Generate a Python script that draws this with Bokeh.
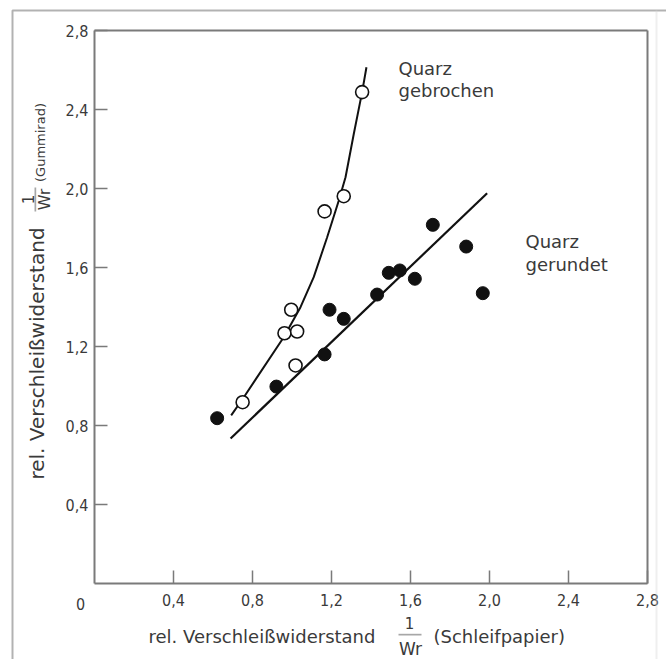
import math
from bokeh.plotting import figure
from bokeh.models import Range1d, FixedTicker, Label, BoxAnnotation, LinearAxis
from bokeh.embed import file_html
from bokeh.resources import INLINE

# ---- data ----
ticks = [0.4, 0.8, 1.2, 1.6, 2.0, 2.4, 2.8]
tick_labels = ["0,4", "0,8", "1,2", "1,6", "2,0", "2,4", "2,8"]

# Quarz gebrochen (open circles)
gebrochen_x = [0.75, 0.962, 1.026, 0.996, 1.018, 1.165, 1.262, 1.355]
gebrochen_y = [0.918, 1.267, 1.276, 1.386, 1.104, 1.884, 1.961, 2.488]
# hand-drawn curve through them
curve_x = [0.692, 0.756, 0.958, 1.043, 1.110, 1.178, 1.237, 1.271, 1.313, 1.355, 1.377]
curve_y = [0.851, 0.943, 1.247, 1.399, 1.551, 1.753, 1.939, 2.057, 2.277, 2.488, 2.614]

# Quarz gerundet (filled circles)
gerundet_x = [0.621, 0.921, 1.165, 1.19, 1.262, 1.431, 1.49, 1.546, 1.622, 1.713, 1.882, 1.966]
gerundet_y = [0.837, 0.997, 1.16, 1.386, 1.34, 1.463, 1.573, 1.585, 1.543, 1.816, 1.706, 1.47]
line_x = [0.689, 1.988]
line_y = [0.734, 1.976]

AXIS_MIN, AXIS_MAX = 0.0, 2.8

TXT = "#3a3a3a"
AX = "#7a7a7a"
TICKFONT = "DejaVu Sans Condensed, Liberation Sans"

W, H = 666, 659
S = 197.5                  # px per data unit
X0, Y0 = 94, 583           # pixel position of the origin

p = figure(width=W, height=H, output_backend="svg", toolbar_location=None,
           x_range=Range1d(-X0 / S, (W - X0) / S),
           y_range=Range1d(-(H - Y0) / S, Y0 / S),
           x_axis_location=None, y_axis_location=None,
           min_border=0)
p.background_fill_color = "white"
p.border_fill_color = "white"
p.grid.visible = False
p.outline_line_color = None

def style_axis(ax, labels=True):
    ax.bounds = (AXIS_MIN, AXIS_MAX)
    ax.axis_line_color = AX
    ax.axis_line_width = 2
    ax.minor_tick_line_color = None
    if labels:
        ax.ticker = FixedTicker(ticks=ticks)
        ax.major_label_overrides = {t: l for t, l in zip(ticks, tick_labels)}
        ax.major_tick_in = 13
        ax.major_tick_out = 0
        ax.major_tick_line_color = AX
        ax.major_tick_line_width = 1.5
        ax.major_label_text_font = TICKFONT
        ax.major_label_text_font_size = "16px"
        ax.major_label_text_color = TXT
    else:
        ax.ticker = FixedTicker(ticks=[])
        ax.major_tick_line_color = None
        ax.major_label_text_font_size = "0px"

xb = LinearAxis(fixed_location=AXIS_MIN)
style_axis(xb)
xb.major_label_standoff = 10
p.add_layout(xb, "below")

yl = LinearAxis(fixed_location=AXIS_MIN)
style_axis(yl)
yl.major_label_standoff = 6
p.add_layout(yl, "left")

xt = LinearAxis(fixed_location=AXIS_MAX)
style_axis(xt, labels=False)
p.add_layout(xt, "above")
yr = LinearAxis(fixed_location=AXIS_MAX)
style_axis(yr, labels=False)
p.add_layout(yr, "right")

# fitted lines
p.line(curve_x, curve_y, line_color="#111111", line_width=2)
p.line(line_x, line_y, line_color="#111111", line_width=2.2)

# points
p.scatter(gerundet_x, gerundet_y, size=13, marker="circle",
          fill_color="#111111", line_color="#111111")
p.scatter(gebrochen_x, gebrochen_y, size=13, marker="circle",
          fill_color="white", line_color="#111111", line_width=1.6)

def dx(px):
    return (px - X0) / S
def dy(py):
    return (Y0 - py) / S

def lab(px, py, text, size, align="left", angle=0, font="DejaVu Sans"):
    p.add_layout(Label(x=dx(px), y=dy(py), text=text, text_font=font,
                       text_font_size=size, text_color=TXT, text_align=align,
                       text_baseline="middle", angle=angle))

# curve annotations
lab(398, 68, "Quarz", "18px")
lab(398, 90, "gebrochen", "18px")
lab(525, 241, "Quarz", "18px")
lab(525, 264, "gerundet", "18px")

# origin label
lab(80, 603, "0", "16px", align="center", font=TICKFONT)

# x-axis label
lab(148, 636, "rel. Verschleißwiderstand", "18px")
lab(409, 622, "1", "15px", align="center")
lab(410, 648, "Wr", "17px", align="center")
p.add_layout(BoxAnnotation(left=dx(398), right=dx(421), top=dy(633.3), bottom=dy(635),
                           fill_color="#222222", line_color=None))
lab(433, 636, "(Schleifpapier)", "18px")

# y-axis label
lab(36, 353, "rel. Verschleißwiderstand", "20px", align="center", angle=math.pi / 2)
lab(27, 199, "1", "15px", align="center", angle=math.pi / 2)
lab(44, 199, "Wr", "16px", align="center", angle=math.pi / 2)
p.add_layout(BoxAnnotation(left=dx(34), right=dx(35.7), top=dy(187), bottom=dy(211),
                           fill_color="#222222", line_color=None))
lab(40, 142, "(Gummirad)", "13px", align="center", angle=math.pi / 2)

# outer frame of the scanned page
p.add_layout(BoxAnnotation(left=dx(12), right=dx(900), top=dy(10), bottom=dy(900),
                           fill_color=None, line_color="black", line_width=2))
p.add_layout(BoxAnnotation(left=dx(655), right=dx(657), top=dy(10), bottom=dy(900),
                           fill_color="#d8d8d8", line_color=None))

open("out.html", "w").write(file_html(p, INLINE))
